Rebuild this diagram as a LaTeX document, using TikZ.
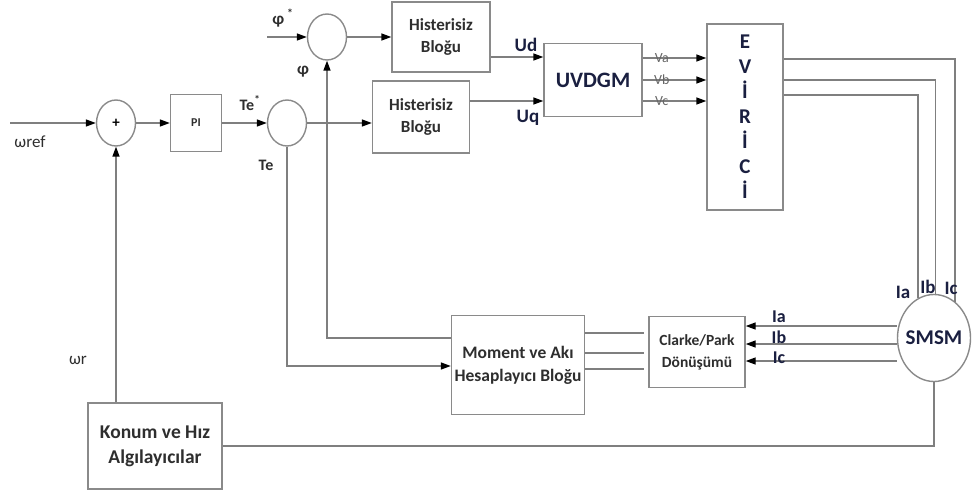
\documentclass[tikz,border=0pt]{standalone}
\usepackage{fontspec}
\setmainfont{Carlito}
\usetikzlibrary{arrows.meta,positioning,shapes.geometric}
\definecolor{linegray}{HTML}{7F7F7F}
\definecolor{boxgray}{HTML}{8A8A8A}
\definecolor{textdark}{HTML}{2E2E2E}
\definecolor{sigblue}{HTML}{1A1F40}

\begin{document}
\begin{tikzpicture}[
  x=1pt, y=-1pt,
  block/.style={rectangle, draw=boxgray, line width=1.4pt, fill=white, text=textdark, font=\bfseries\fontsize{17}{22}\selectfont, align=center, inner sep=0pt},
  summer/.style={ellipse, draw=boxgray, line width=1.4pt, inner sep=0pt, minimum width=39pt, minimum height=46pt},
  sig label/.style={font=\bfseries\fontsize{19}{19}\selectfont, text=sigblue, inner sep=1pt},
  plain label/.style={font=\fontsize{17}{17}\selectfont, text=textdark, inner sep=1pt},
  v label/.style={font=\fontsize{14}{14}\selectfont, text=black!60, inner sep=0pt},
  wire/.style={draw=linegray, line width=1.4pt},
  >={Triangle[length=10pt,width=7pt,color=black]}
]
  \useasboundingbox (0,0) rectangle (972,492);
  \node[summer, font=\bfseries\fontsize{15}{15}\selectfont] (sum1) at (116,123) {+};
  \node[block, minimum width=51pt, minimum height=57pt, font=\bfseries\fontsize{12}{12}\selectfont] (pi) at (196,123) {PI};
  \node[summer] (sum2) at (287,123) {};
  \node[summer] (phisum) at (327,37) {};
  \node[block, minimum width=98pt, minimum height=70pt] (hist1) at (441,37) {Histerisiz\\Bloğu};
  \node[block, minimum width=97pt, minimum height=72pt] (hist2) at (421,117) {Histerisiz\\Bloğu};
  \node[block, minimum width=98pt, minimum height=73pt, text=sigblue, font=\bfseries\fontsize{22}{22}\selectfont] (uvdgm) at (593,80) {UVDGM};
  \node[block, minimum width=76pt, minimum height=186pt, text=sigblue, font=\bfseries\fontsize{21}{25}\selectfont] (evirici) at (745,117) {E\\V\\İ\\R\\İ\\C\\İ};
  \node[summer, minimum width=73pt, minimum height=87pt, label={[font=\bfseries\fontsize{21}{21}\selectfont, text=sigblue]center:SMSM}] (smsm) at (934,338) {};
  \node[block, minimum width=96pt, minimum height=71pt, font=\bfseries\fontsize{15.5}{22}\selectfont] (clarke) at (697,352) {Clarke/Park\\Dönüşümü};
  \node[block, minimum width=133pt, minimum height=99pt, font=\bfseries\fontsize{17.5}{23}\selectfont] (moment) at (518,365) {Moment ve Akı\\Hesaplayıcı Bloğu};
  \node[block, minimum width=134pt, minimum height=86pt, font=\bfseries\fontsize{19.5}{25}\selectfont] (konum) at (155,446) {Konum ve Hız\\Algılayıcılar};
  \coordinate (wref) at (10,123);
  \coordinate (phiin) at (267,37);
  % forward path
  \draw[wire, ->] (wref) -- (sum1);
  \draw[wire, ->] (sum1) -- (pi);
  \draw[wire, ->] (pi) -- (sum2);
  \draw[wire, ->] (phiin) -- (phisum);
  \draw[wire, ->] (phisum) -- (hist1);
  \draw[wire, ->] (sum2.east) -- (sum2.east -| hist2.west);
  \draw[wire, ->] (hist1.east |- 0,57) -- (uvdgm.west |- 0,57);
  \draw[wire, ->] (hist2.east |- 0,101) -- (uvdgm.west |- 0,101);
  \foreach \y/\n in {58/a, 80/b, 101/c}
    \draw[wire, ->] (uvdgm.east |- 0,\y) -- node[v label, pos=0.3, anchor=south, yshift=-5pt] {V\n} (evirici.west |- 0,\y);
  \draw[wire] (evirici.east |- 0,59) -| (smsm.60);
  \draw[wire] (evirici.east |- 0,80) -| (smsm.88);
  \draw[wire] (evirici.east |- 0,95) -| (smsm.112);
  % measurements
  \foreach \y/\n/\s in {326/a/9, 344/b/7, 361/c/3}
    \draw[wire, ->] (smsm.west |- 0,\y) -- node[sig label, font=\bfseries\fontsize{18}{18}\selectfont, pos=0.78, yshift=\s pt] {I\n} (clarke.east |- 0,\y);
  \foreach \y in {333, 353, 369}
    \draw[wire] (moment.east |- 0,\y) -- ([xshift=-4pt]clarke.west |- 0,\y);
  % feedback
  \draw[wire, ->] (moment.west |- 0,338) -| (phisum);
  \draw[wire, ->] (sum2) |- (moment.west |- 0,366);
  \draw[wire, ->] (konum.north -| sum1) -- (sum1);
  \draw[wire] (smsm) |- (konum);
  % labels
  \node[plain label] (wreflab) at (30,142) {ωref};
  \node[plain label] (wrlab) at (78,360) {ωr};
  \node[plain label, font=\bfseries\fontsize{16}{16}\selectfont] (testar) at (250,103) {Te\textsuperscript{*}};
  \node[plain label, font=\bfseries\fontsize{16}{16}\selectfont] (telab) at (266,165) {Te};
  \node[plain label, font=\bfseries\fontsize{17}{17}\selectfont] (phistar) at (283,18) {φ\,\textsuperscript{*}};
  \node[plain label, font=\bfseries\fontsize{17}{17}\selectfont] (philab) at (303,72) {φ};
  \node[sig label] (udlab) at (526,45) {Ud};
  \node[sig label] (uqlab) at (528,118) {Uq};
  \node[sig label] (ialab) at (903,292) {Ia};
  \node[sig label] (iblab) at (928,287) {Ib};
  \node[sig label] (iclab) at (951,288) {Ic};
\end{tikzpicture}
\end{document}
